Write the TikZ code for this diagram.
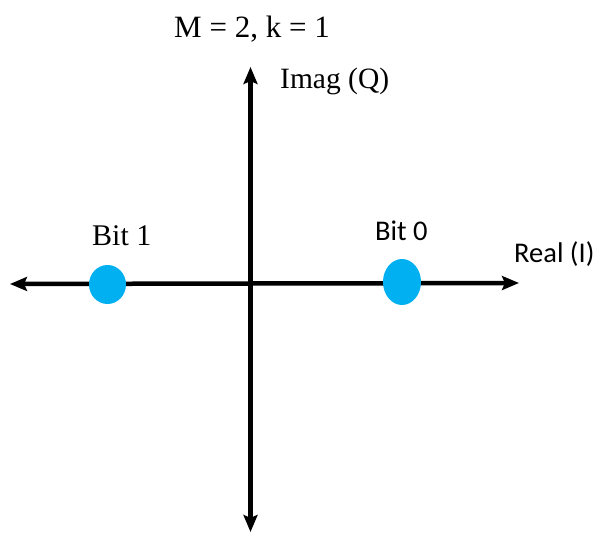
\documentclass[tikz,border=0pt]{standalone}
\usepackage{fontspec}
\setmainfont{Liberation Serif}
\newfontfamily\calib{Carlito}
\usetikzlibrary{arrows.meta,shapes.geometric}
\definecolor{dotblue}{HTML}{00B0F0}
\tikzset{
  axis/.style={line width=4.5pt,-{Stealth[length=17pt,width=14pt,inset=3pt]}},
  dot/.style={ellipse,fill=dotblue,inner sep=0pt},
  lbl/.style={inner sep=0pt,font=\fontsize{30}{32}\selectfont},
  lbls/.style={inner sep=0pt,font=\calib\fontsize{28.5}{30}\selectfont}
}
\begin{document}
\begin{tikzpicture}[x=1pt,y=-1pt]
\useasboundingbox (0,0) rectangle (597,533);
\coordinate (o) at (250.5,283.5);
\coordinate (xl) at (10,284);
\coordinate (xr) at (519,283);
\coordinate (yt) at (250.5,67);
\coordinate (yb) at (250.5,532);
\draw[axis] (o) -- (xl);
\draw[axis] (o) -- (xr);
\draw[axis] (o) -- (yt);
\draw[axis] (o) -- (yb);
\node[dot,minimum width=37pt,minimum height=39pt] (b1) at (107.5,284.5) {};
\node[dot,minimum width=38pt,minimum height=46pt] (b0) at (402,282) {};
\node[lbl,anchor=base,font=\fontsize{31}{33}\selectfont] (title) at (252,37) {M = 2, k = 1};
\node[lbl,anchor=base west,font=\fontsize{29.5}{32}\selectfont] (imag) at (280,88) {Imag (Q)};
\node[lbl,anchor=base west] (t1) at (92,245) {Bit 1};
\node[lbls,anchor=base west] (t0) at (375,240) {Bit 0};
\node[lbls,anchor=base west] (real) at (514,262) {Real (I)};
\end{tikzpicture}
\end{document}
